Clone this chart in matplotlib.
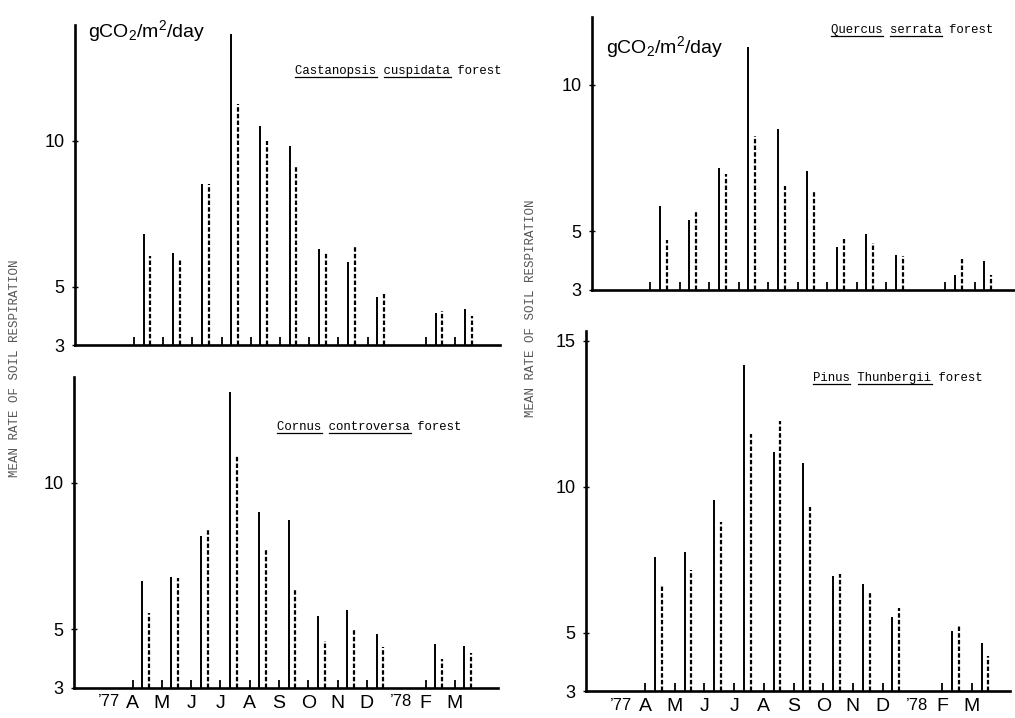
import matplotlib
matplotlib.use('Agg')
import matplotlib.pyplot as plt

plt.rcParams['mathtext.default'] = 'regular'
plt.rcParams['lines.scale_dashes'] = False

# ---------------- data ----------------
month_labels = ['A', 'M', 'J', 'J', 'A', 'S', 'O', 'N', 'D', 'F', 'M']
month_index = [0, 1, 2, 3, 4, 5, 6, 7, 8, 10, 11]   # Apr 1977 = 0 ... Mar 1978 = 11 (no Jan)
year_labels = ["\u201977", "\u201978"]

castanopsis_solid = [6.80, 6.15, 8.50, 13.65, 10.50, 9.80, 6.30, 5.85, 4.65, 4.10, 4.25]
castanopsis_dashed = [6.05, 5.90, 8.50, 11.25, 10.00, 9.10, 6.20, 6.35, 4.75, 4.15, 4.00]
cornus_solid = [6.65, 6.80, 8.20, 13.10, 9.00, 8.75, 5.45, 5.65, 4.85, 4.50, 4.45]
cornus_dashed = [5.55, 6.75, 8.40, 10.95, 7.75, 6.40, 4.60, 5.05, 4.40, 4.00, 4.20]
quercus_solid = [5.85, 5.40, 7.15, 11.30, 8.50, 7.05, 4.45, 4.90, 4.20, 3.50, 4.00]
quercus_dashed = [4.70, 5.65, 6.95, 8.25, 6.55, 6.35, 4.75, 4.60, 4.15, 4.05, 3.50]
pinus_solid = [7.60, 7.75, 9.55, 14.15, 11.20, 10.80, 6.95, 6.65, 5.55, 5.05, 4.65]
pinus_dashed = [6.60, 7.15, 8.80, 11.80, 12.25, 9.30, 7.00, 6.35, 5.85, 5.25, 4.20]

titles = [('Castanopsis', 'cuspidata'), ('Cornus', 'controversa'),
          ('Quercus', 'serrata'), ('Pinus', 'Thunbergii')]

# ---------------- layout ----------------
W, H = 1015, 718
DPI = 100
fig = plt.figure(figsize=(W / DPI, H / DPI), dpi=DPI)
fig.patch.set_facecolor('white')

# pixel specs: left, right, y-pixel of 3, y-pixel of top, px per unit (y), x-pixel of month 0, px per month
panels = [
    dict(left=75, right=500, base=345, top=25, sy=29.2, x0=134, dx=29.2, ticks=[3, 5, 10]),
    dict(left=74, right=498, base=688, top=377, sy=29.3, x0=132.5, dx=29.3, ticks=[3, 5, 10]),
    dict(left=592, right=1015, base=290, top=17, sy=29.33, x0=650, dx=29.5, ticks=[3, 5, 10]),
    dict(left=586, right=1010, base=691, top=331, sy=29.2, x0=645, dx=29.7, ticks=[3, 5, 10, 15]),
]
series = [(castanopsis_solid, castanopsis_dashed), (cornus_solid, cornus_dashed),
          (quercus_solid, quercus_dashed), (pinus_solid, pinus_dashed)]

SOLID_OFF = 0.33
DASH_OFF = 0.56
TICK_H = 0.27

sans = 'Liberation Sans'
mono = 'Liberation Mono'

for i, (p, (sol, das)) in enumerate(zip(panels, series)):
    ax = fig.add_axes([p['left'] / W, (H - p['base']) / H,
                       (p['right'] - p['left']) / W, (p['base'] - p['top']) / H])
    ymax = 3 + (p['base'] - p['top']) / p['sy']
    xl = ((p['left'] - p['x0']) / p['dx'], (p['right'] - p['x0']) / p['dx'])
    ax.set_xlim(*xl)
    ax.set_ylim(3, ymax)
    for s in ['top', 'right']:
        ax.spines[s].set_visible(False)
    ax.spines['left'].set_linewidth(1.9)
    ax.spines['bottom'].set_linewidth(1.9)
    ax.patch.set_alpha(0)

    xs = [m + SOLID_OFF for m in month_index]
    xd = [m + DASH_OFF for m in month_index]
    ax.vlines(month_index, 3, [3 + TICK_H] * len(month_index), colors='black', linewidth=1.3)
    ax.vlines(xs, 3, sol, colors='black', linewidth=1.4)
    ax.vlines(xd, 3, das, colors='black', linewidth=1.6, linestyles=(0, (3.2, 1.6)))

    ax.set_yticks(p['ticks'])
    ax.set_yticklabels([str(t) for t in p['ticks']], fontfamily=sans, fontsize=13)
    ax.tick_params(axis='y', direction='inout', length=5, width=1, pad=5)

    if i in (1, 3):
        ax.set_xticks(month_index)
        ax.set_xticklabels(month_labels, fontfamily=sans, fontsize=14)
        ax.tick_params(axis='x', length=0, pad=5)
        trans = ax.get_xaxis_transform()
        yoff = -6.5 / (p['base'] - p['top'])
        ax.text(-0.8, yoff, year_labels[0], transform=trans, ha='center', va='top',
                fontfamily=sans, fontsize=12)
        ax.text(9.15, yoff, year_labels[1], transform=trans, ha='center', va='top',
                fontfamily=sans, fontsize=12)
    else:
        ax.set_xticks([])

# units labels
fig.text(88 / W, 1 - 31 / H, r'gCO$_2$/m$^2$/day', fontfamily=sans, fontsize=14,
         ha='left', va='center')
fig.text(606 / W, 1 - 47 / H, r'gCO$_2$/m$^2$/day', fontfamily=sans, fontsize=14,
         ha='left', va='center')

# y labels
ylab = 'MEAN RATE OF SOIL RESPIRATION'
fig.text(15 / W, 1 - 368 / H, ylab, rotation=90, fontfamily=mono, fontsize=9,
         color='#555555', ha='center', va='center')
fig.text(531 / W, 1 - 308 / H, ylab, rotation=90, fontfamily=mono, fontsize=9,
         color='#555555', ha='center', va='center')

# titles with underlined species names
TFS = 8.9
cw = 0.6 * TFS * DPI / 72.0   # monospace char width in px
title_pos = [(295, 74), (277, 430), (831, 33), (813, 381)]
for (w1, w2), (tx, ty) in zip(titles, title_pos):
    txt = f'{w1} {w2} forest'
    fig.text(tx / W, 1 - ty / H, txt, fontfamily=mono, fontsize=TFS, ha='left', va='baseline')
    uy = 1 - (ty + 3) / H
    for start, word in [(0, w1), (len(w1) + 1, w2)]:
        x_a = (tx + start * cw) / W
        x_b = (tx + (start + len(word)) * cw) / W
        fig.add_artist(plt.Line2D([x_a, x_b], [uy, uy], transform=fig.transFigure,
                                  color='black', linewidth=0.9))

fig.savefig('out.png', dpi=DPI, facecolor='white')
